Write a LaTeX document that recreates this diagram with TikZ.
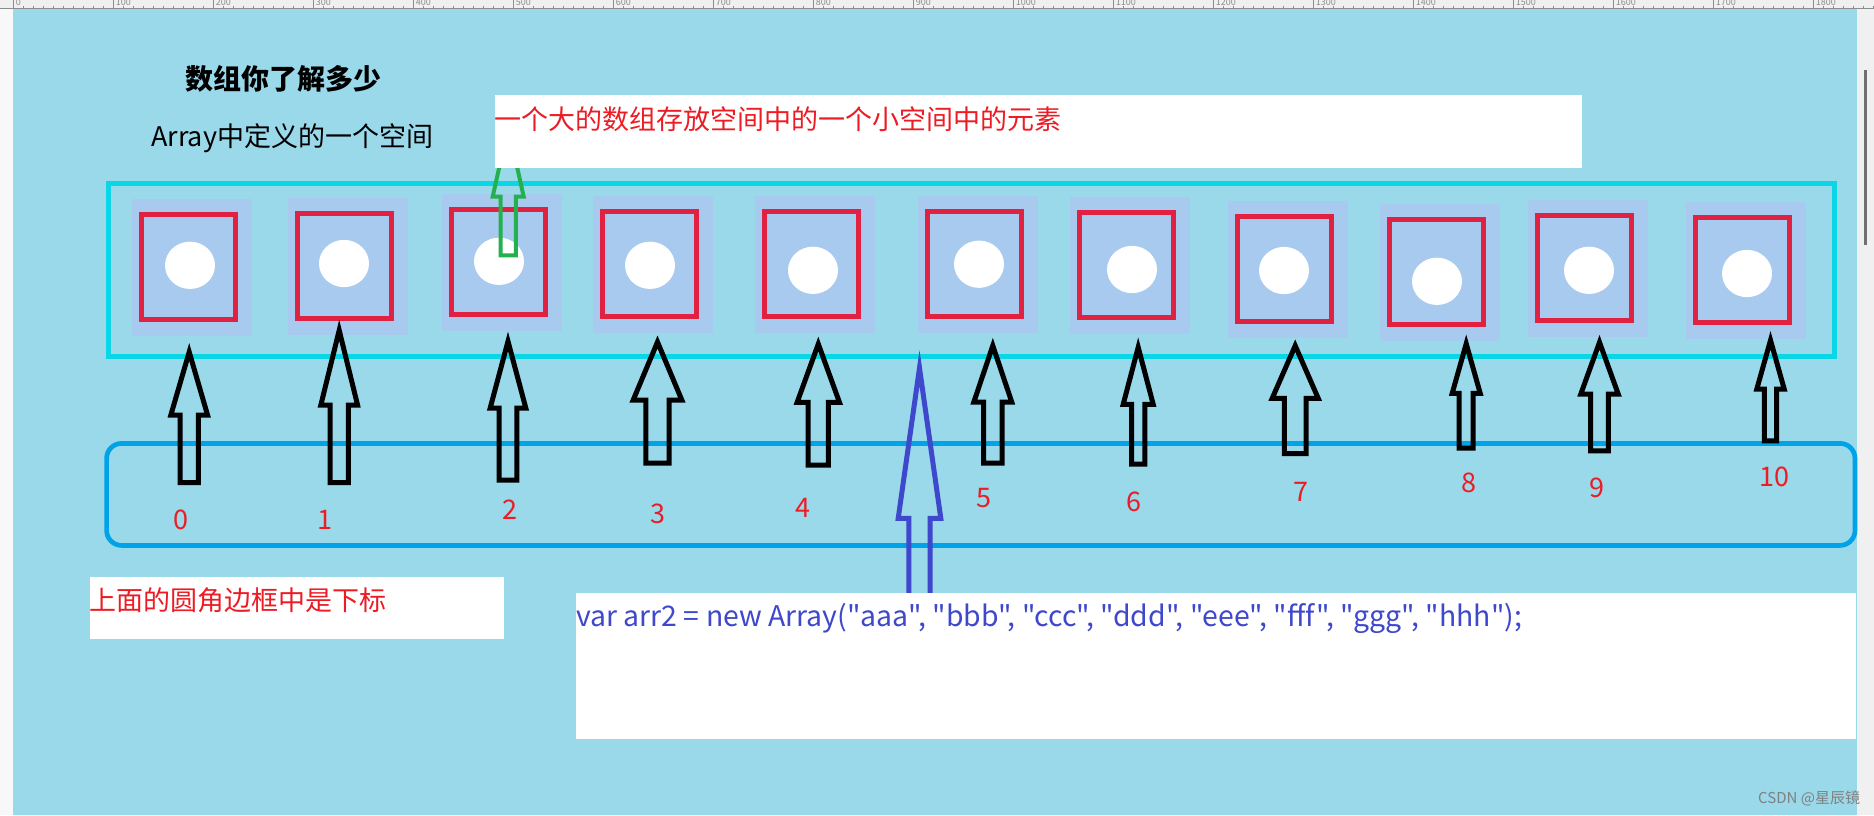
\documentclass[tikz,border=0pt]{standalone}
\usepackage{fontspec}
\setmainfont{Noto Sans CJK SC}
\newfontfamily\codefont{Noto Sans CJK SC}
\usetikzlibrary{shapes.geometric}
\definecolor{bgblue}{RGB}{153,217,234}
\definecolor{cellblue}{RGB}{167,202,238}
\definecolor{sqred}{RGB}{225,33,66}
\definecolor{topcyan}{RGB}{10,214,230}
\definecolor{boxblue}{RGB}{0,162,232}
\definecolor{txtred}{RGB}{237,28,36}
\definecolor{indigo}{RGB}{63,72,204}
\definecolor{pgreen}{RGB}{34,177,76}
\definecolor{uigray}{RGB}{240,240,240}
\definecolor{tickgray}{RGB}{140,140,140}
% block arrow: [style]{cx}{tip}{head base}{head half}{shaft half}{bottom}
\newcommand\blockarrow[7][]{%
  \draw[#1] (#2,#3) -- ({#2+#5},#4) -- ({#2+#6},#4) -- ({#2+#6},#7)
    -- ({#2-#6},#7) -- ({#2-#6},#4) -- ({#2-#5},#4) -- cycle;}
\newcommand\arrcell[5]{%
  \node[cellbg] (bg#1) at ({#2+60},{#3+68.35}) {};
  \node[redsq] (sq#1) at ({#2+56.5},{#3+67.85}) {};
  \node[dot] (el#1) at (#4,#5) {};}
\tikzset{
  cellbg/.style={fill=cellblue, minimum width=120pt, minimum height=136.7pt, inner sep=0pt, outer sep=0pt},
  redsq/.style={draw=sqred, line width=5pt, minimum width=94pt, minimum height=104.7pt, inner sep=0pt, outer sep=0pt},
  dot/.style={ellipse, fill=white, minimum width=50pt, minimum height=47.3pt, inner sep=0pt},
  blk/.style={draw=black, line width=5pt, line join=miter},
  blu/.style={draw=indigo, line width=5pt, line join=miter},
  grn/.style={draw=pgreen, line width=4pt, line join=miter},
  idx/.style={text=txtred, inner sep=0pt, font=\fontsize{27}{30}\selectfont},
  whitebox/.style={fill=white, inner sep=0pt, outer sep=0pt, anchor=north west},
}
\begin{document}
\begin{tikzpicture}[x=1pt,y=-1pt]
\useasboundingbox (0,0) rectangle (1874,815);
% window chrome
\fill[uigray] (0,0) rectangle (1874,815);
\fill[white!50!uigray] (0,8.3) rectangle (13,815);
\fill[bgblue] (13,8.3) rectangle (1857,815);
\draw[tickgray, line width=1pt] (0,8) -- (1874,8);
\foreach \k in {0,...,186}{
  \pgfmathsetmacro\tx{13.7+10*\k}
  \draw[tickgray, line width=0.8pt] (\tx,5.5) -- (\tx,8);}
\foreach \k in {0,...,18}{
  \pgfmathsetmacro\tx{13.7+100*\k}
  \draw[tickgray, line width=0.8pt] (\tx,0) -- (\tx,8);
  \pgfmathtruncatemacro\lab{100*\k}
  \begin{scope}
    \clip (\tx,0) rectangle ({\tx+40},7.5);
    \node[anchor=base west, inner sep=0pt, text=tickgray, font=\fontsize{9}{10}\selectfont] at ({\tx+2},5) {\lab};
  \end{scope}}
\draw[tickgray!80!black, line width=2.3pt] (1865.5,70) -- (1865.5,245);
% array frame
\draw[topcyan, line width=5pt] (108.5,183.5) rectangle (1834.5,356.3);
% cells
\arrcell{0}{132}{199}{190}{265.3}
\arrcell{1}{288.3}{198.3}{344}{263.5}
\arrcell{2}{442.3}{194}{499}{261.3}
\arrcell{3}{593}{196}{650}{265.3}
\arrcell{4}{754.7}{196}{813}{270.3}
\arrcell{5}{918}{196}{979}{264.2}
\arrcell{6}{1070}{197.3}{1132}{269.5}
\arrcell{7}{1228}{201.3}{1284}{270.5}
\arrcell{8}{1380}{204}{1437}{281.3}
\arrcell{9}{1528.3}{200}{1589}{270.3}
\arrcell{10}{1686}{202}{1747}{273.5}
% green arrow (under the note box)
\blockarrow[grn]{508.2}{127}{196.7}{15.5}{7.7}{255.3}
% texts at top
\node[anchor=west, inner sep=0pt, font=\bfseries\fontsize{28}{32}\selectfont] (title) at (185,78.5) {数组你了解多少};
\node[anchor=base west, inner sep=0pt, font=\fontsize{27}{30}\selectfont] (sub) at (151,146.7) {Array中定义的一个空间};
\node[whitebox, minimum width=1087pt, minimum height=73pt] (notebox) at (495,95) {};
\node[anchor=west, inner sep=0pt, text=txtred, font=\fontsize{27}{30}\selectfont] (note) at (494,119.5) {一个大的数组存放空间中的一个小空间中的元素};
% index frame
\draw[boxblue, line width=4.7pt, rounded corners=15pt] (106.6,443.4) rectangle (1855,545.4);
% index arrows
\blockarrow[blk]{189.2}{352}{415}{18.35}{9.2}{482.5}
\blockarrow[blk]{339.2}{330.3}{405}{18.35}{9.2}{482.5}
\blockarrow[blk]{508}{341.3}{408}{17.8}{8.8}{480.2}
\blockarrow[blk]{657.5}{342}{400}{24.3}{11.65}{463.2}
\blockarrow[blk]{818.3}{344}{402.3}{21.15}{10.15}{465.2}
\blockarrow[blk]{992.8}{345.7}{402}{18.95}{9.3}{463.2}
\blockarrow[blk]{1138.2}{347.3}{404.3}{15}{6.65}{464.2}
\blockarrow[blk]{1295.2}{345.7}{398.3}{23}{10.8}{453.5}
\blockarrow[blk]{1466.2}{343.7}{393.3}{14}{7}{448.2}
\blockarrow[blk]{1599.5}{342.3}{394}{18.7}{8.8}{450.8}
\blockarrow[blk]{1770.5}{340.3}{389}{13.7}{6.15}{440.8}
% index labels
\node[idx] (i0) at (180.7,520) {0};
\node[idx] (i1) at (325,520) {1};
\node[idx] (i2) at (510,510) {2};
\node[idx] (i3) at (658.3,514.3) {3};
\node[idx] (i4) at (803.3,508.3) {4};
\node[idx] (i5) at (984,498.3) {5};
\node[idx] (i6) at (1134,501.7) {6};
\node[idx] (i7) at (1300.7,491.7) {7};
\node[idx] (i8) at (1469.3,483.3) {8};
\node[idx] (i9) at (1597.3,488.3) {9};
\node[idx] (i10) at (1774.3,477.3) {10};
% blue arrow from code to array
\blockarrow[blu]{919.5}{368}{518.3}{21.3}{10.65}{610}
% bottom notes
\node[whitebox, minimum width=414pt, minimum height=62.3pt] (idxbox) at (90,576.7) {};
\node[anchor=west, inner sep=0pt, text=txtred, font=\fontsize{27}{30}\selectfont] (idxnote) at (89,600) {上面的圆角边框中是下标};
\node[whitebox, minimum width=1280.3pt, minimum height=146.3pt] (codebox) at (576,592.7) {};
\node[anchor=base west, inner sep=0pt, text=indigo, font=\codefont\fontsize{28.4}{32}\selectfont] (code) at (576,626.7) {var arr2 = new Array("aaa", "bbb", "ccc", "ddd", "eee", "fff", "ggg", "hhh");};
\node[anchor=west, inner sep=0pt, text=gray, font=\fontsize{15}{18}\selectfont] (wm) at (1758,798.3) {CSDN @星辰镜};
\end{tikzpicture}
\end{document}
